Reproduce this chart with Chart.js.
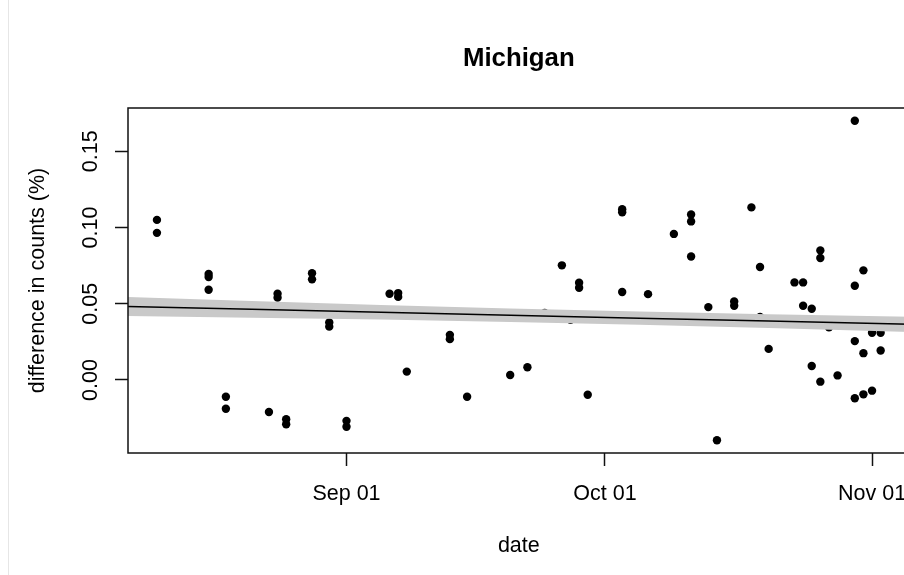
<!DOCTYPE html>
<html>
<head>
<meta charset="utf-8">
<script src="https://cdn.jsdelivr.net/npm/chart.js@4.4.1/dist/chart.umd.min.js"></script>
<style>
  html, body { margin: 0; padding: 0; background: #fff; overflow: hidden; }
  #wrap { width: 904px; height: 575px; overflow: hidden; position: relative; }
  canvas { display: block; }
</style>
</head>
<body>
<div id="wrap"><canvas id="c" width="914" height="575"></canvas></div>
<script>
// Daily difference in counts (%) for Michigan
const obsDates = [
  '2020-08-10','2020-08-10',
  '2020-08-16','2020-08-16','2020-08-16',
  '2020-08-18','2020-08-18',
  '2020-08-23',
  '2020-08-24','2020-08-24',
  '2020-08-25','2020-08-25',
  '2020-08-28','2020-08-28',
  '2020-08-30','2020-08-30',
  '2020-09-01','2020-09-01',
  '2020-09-06',
  '2020-09-07','2020-09-07',
  '2020-09-08',
  '2020-09-13','2020-09-13',
  '2020-09-15',
  '2020-09-20',
  '2020-09-22',
  '2020-09-24',
  '2020-09-26',
  '2020-09-27',
  '2020-09-28','2020-09-28',
  '2020-09-29',
  '2020-10-03','2020-10-03','2020-10-03',
  '2020-10-06',
  '2020-10-09',
  '2020-10-11','2020-10-11','2020-10-11',
  '2020-10-13',
  '2020-10-14',
  '2020-10-16','2020-10-16',
  '2020-10-18',
  '2020-10-19','2020-10-19',
  '2020-10-20',
  '2020-10-23',
  '2020-10-24','2020-10-24',
  '2020-10-25','2020-10-25',
  '2020-10-26','2020-10-26','2020-10-26',
  '2020-10-27',
  '2020-10-28',
  '2020-10-30','2020-10-30','2020-10-30','2020-10-30',
  '2020-10-31','2020-10-31','2020-10-31',
  '2020-11-01','2020-11-01',
  '2020-11-02','2020-11-02'
];
const obsDiff = [
  0.105, 0.0965,
  0.0695, 0.0675, 0.0592,
  -0.011, -0.0189,
  -0.021,
  0.0566, 0.054,
  -0.0257, -0.029,
  0.070, 0.066,
  0.0377, 0.035,
  -0.0268, -0.0307,
  0.0566,
  0.057, 0.0545,
  0.0055,
  0.0296, 0.0268,
  -0.011,
  0.0033,
  0.0084,
  0.044,
  0.0752,
  0.0395,
  0.0638, 0.0605,
  -0.0097,
  0.112, 0.110, 0.0577,
  0.0563,
  0.0958,
  0.1085, 0.104, 0.081,
  0.0478,
  -0.0395,
  0.0515, 0.0487,
  0.1132,
  0.0741, 0.0414,
  0.0204,
  0.064,
  0.064, 0.0487,
  0.0467, 0.0092,
  0.085, 0.080, -0.0011,
  0.0345,
  0.003,
  0.170, 0.0618, 0.0255, -0.012,
  0.0719, 0.0176, -0.0094,
  0.031, -0.007,
  0.031, 0.0193
];

// Linear trend with its confidence band
const fitDates = ['2020-08-06','2020-08-21','2020-09-05','2020-09-20','2020-10-05','2020-10-20','2020-11-06'];
const fitValue = [0.0483, 0.04635, 0.04442, 0.04248, 0.04055, 0.03861, 0.03642];
const fitLower = [0.0421, 0.0409, 0.0396, 0.0381, 0.0363, 0.0341, 0.0314];
const fitUpper = [0.0545, 0.0518, 0.0492, 0.0469, 0.0449, 0.0431, 0.0415];

// Axis ticks
const xTickDates  = ['2020-09-01', '2020-10-01', '2020-11-01'];
const xTickLabels = ['Sep 01', 'Oct 01', 'Nov 01'];
const yTickValues = [0, 0.05, 0.10, 0.15];
const yTickLabels = ['0.00', '0.05', '0.10', '0.15'];

// day number counted from Aug 1
const ORIGIN = Date.UTC(2020, 7, 1);
function dayOf(s) {
  const p = s.split('-').map(Number);
  return (Date.UTC(p[0], p[1] - 1, p[2]) - ORIGIN) / 86400000;
}

const pts  = obsDates.map((d, i) => ({ x: dayOf(d), y: obsDiff[i] }));
const line = fitDates.map((d, i) => ({ x: dayOf(d), y: fitValue[i] }));
const lo   = fitDates.map((d, i) => ({ x: dayOf(d), y: fitLower[i] }));
const hi   = fitDates.map((d, i) => ({ x: dayOf(d), y: fitUpper[i] }));

// base-graphics style limits: data range widened by 4% each side
function padRange(vals) {
  const mn = Math.min(...vals), mx = Math.max(...vals);
  const d = (mx - mn) * 0.04;
  return [mn - d, mx + d];
}
const [xMin, xMax] = padRange(pts.map(p => p.x));
const [yMin, yMax] = padRange(obsDiff);

const FONT = "'Liberation Sans', Arial, Helvetica, sans-serif";
const BASE = 21.5;

const decor = {
  id: 'decor',
  beforeDraw(chart) {
    const ctx = chart.ctx;
    ctx.save();
    ctx.fillStyle = '#ffffff';
    ctx.fillRect(0, 0, chart.width, chart.height);
    ctx.fillStyle = '#e6e6e6';
    ctx.fillRect(8, 0, 1, chart.height);
    ctx.restore();
  },
  afterDraw(chart) {
    const ctx = chart.ctx;
    const a = chart.chartArea;
    ctx.save();
    // plot frame
    ctx.strokeStyle = '#111';
    ctx.lineWidth = 1.5;
    ctx.strokeRect(a.left, a.top, a.right - a.left, a.bottom - a.top);
    // main title
    ctx.fillStyle = '#000';
    ctx.font = 'bold ' + (BASE * 1.2) + 'px ' + FONT;
    ctx.textAlign = 'center';
    ctx.textBaseline = 'alphabetic';
    ctx.fillText('Michigan', (a.left + a.right) / 2, 66);
    // y tick labels, parallel to the axis
    const ys = chart.scales.y;
    ctx.font = BASE + 'px ' + FONT;
    yTickValues.forEach((v, i) => {
      const py = ys.getPixelForValue(v);
      ctx.save();
      ctx.translate(97, py);
      ctx.rotate(-Math.PI / 2);
      ctx.fillText(yTickLabels[i], 0, 0);
      ctx.restore();
    });
    ctx.restore();
  }
};

new Chart(document.getElementById('c'), {
  type: 'scatter',
  data: {
    datasets: [
      {
        label: 'observed',
        data: pts,
        order: 3,
        pointRadius: 4.2,
        pointBorderWidth: 0,
        pointBackgroundColor: '#000',
        showLine: false
      },
      {
        label: 'lower',
        data: lo,
        order: 2,
        showLine: true,
        pointRadius: 0,
        borderWidth: 0,
        borderColor: 'rgba(0,0,0,0)',
        fill: false
      },
      {
        label: 'upper',
        data: hi,
        order: 1,
        showLine: true,
        pointRadius: 0,
        borderWidth: 0,
        borderColor: 'rgba(0,0,0,0)',
        backgroundColor: '#c9c9c9',
        fill: '-1'
      },
      {
        label: 'trend',
        data: line,
        order: 0,
        showLine: true,
        pointRadius: 0,
        borderWidth: 1.5,
        borderColor: '#000',
        fill: false
      }
    ]
  },
  options: {
    responsive: false,
    animation: false,
    events: [],
    devicePixelRatio: 1,
    layout: { padding: { top: 108, right: 4.4, bottom: 0, left: 0 } },
    plugins: {
      legend: { display: false },
      tooltip: { enabled: false },
      title: { display: false }
    },
    scales: {
      x: {
        type: 'linear',
        position: 'bottom',
        min: xMin,
        max: xMax,
        afterBuildTicks(s) { s.ticks = xTickDates.map(d => ({ value: dayOf(d) })); },
        afterFit(s) { s.height = 122; s.paddingLeft = 0; s.paddingRight = 0; },
        ticks: {
          callback(v) {
            const i = xTickDates.findIndex(d => dayOf(d) === v);
            return i >= 0 ? xTickLabels[i] : '';
          },
          font: { family: FONT, size: BASE },
          color: '#000',
          padding: 15,
          maxRotation: 0,
          minRotation: 0,
          autoSkip: false
        },
        grid: {
          drawOnChartArea: false,
          drawTicks: true,
          tickLength: 13,
          tickColor: '#111',
          tickWidth: 1.5,
          color: '#111'
        },
        border: { display: false },
        title: {
          display: true,
          text: 'date',
          font: { family: FONT, size: BASE },
          color: '#000',
          padding: { top: 0, bottom: 16 }
        }
      },
      y: {
        type: 'linear',
        position: 'left',
        min: yMin,
        max: yMax,
        afterBuildTicks(s) { s.ticks = yTickValues.map(v => ({ value: v })); },
        afterFit(s) { s.width = 128; s.paddingTop = 0; s.paddingBottom = 0; },
        ticks: { display: false },
        grid: {
          drawOnChartArea: false,
          drawTicks: true,
          tickLength: 13,
          tickColor: '#111',
          tickWidth: 1.5,
          color: '#111'
        },
        border: { display: false },
        title: {
          display: true,
          text: 'difference in counts (%)',
          font: { family: FONT, size: BASE },
          color: '#000',
          padding: { top: 25, bottom: 0 }
        }
      }
    }
  },
  plugins: [decor]
});
</script>
</body>
</html>
